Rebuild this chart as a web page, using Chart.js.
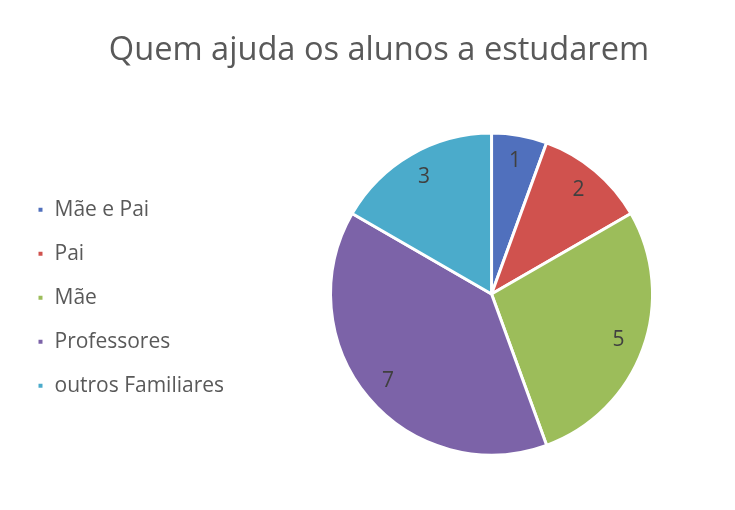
<!DOCTYPE html>
<html>
<head>
<meta charset="utf-8">
<script src="https://cdn.jsdelivr.net/npm/chart.js@4"></script>
<style>
  html, body { margin: 0; padding: 0; background: #fff; }
  #wrap { width: 735px; height: 510px; }
</style>
</head>
<body>
<div id="wrap"><canvas id="myChart" width="735" height="510"></canvas></div>
<script>
// dados do gráfico
const categorias = ['Mãe e Pai', 'Pai', 'Mãe', 'Professores', 'outros Familiares'];
const valores = [1, 2, 5, 7, 3];
const cores = ['#5070bd', '#d0524e', '#9cbd5a', '#7c63a8', '#4babcb'];

// desenha o número de cada fatia
const rotulos = {
  id: 'rotulos',
  afterDatasetsDraw(chart) {
    const ctx = chart.ctx;
    const meta = chart.getDatasetMeta(0);
    ctx.save();
    ctx.font = '21px "Open Sans", sans-serif';
    ctx.fillStyle = '#404040';
    ctx.textAlign = 'center';
    ctx.textBaseline = 'middle';
    meta.data.forEach((arc, i) => {
      const p = arc.getProps(['x', 'y', 'startAngle', 'endAngle', 'outerRadius']);
      const a = (p.startAngle + p.endAngle) / 2;
      const r = p.outerRadius * 0.84;
      ctx.fillText(String(valores[i]), p.x + Math.cos(a) * r, p.y + Math.sin(a) * r);
    });
    ctx.restore();
  }
};

// legenda um pouco mais larga, para empurrar a pizza para a direita
const alargaLegenda = {
  id: 'alargaLegenda',
  beforeInit(chart) {
    const lg = chart.legend;
    if (!lg) return;
    const fit = lg.fit;
    lg.fit = function () {
      fit.call(this);
      this.width += 14;
    };
  }
};

const ctx = document.getElementById('myChart').getContext('2d');
const myChart = new Chart(ctx, {
  type: 'pie',
  data: {
    labels: categorias,
    datasets: [{
      data: valores,
      backgroundColor: cores,
      borderColor: '#ffffff',
      borderWidth: 3
    }]
  },
  options: {
    responsive: false,
    animation: false,
    radius: 161,
    layout: { padding: { left: 14, right: -9, top: 0, bottom: 0 } },
    plugins: {
      title: {
        display: true,
        text: 'Quem ajuda os alunos a estudarem',
        color: '#595959',
        font: { family: '"Open Sans", sans-serif', size: 32.6, weight: 'normal' },
        padding: { top: 31, bottom: 8 }
      },
      legend: {
        position: 'left',
        title: { display: true, text: '', padding: { top: 0, bottom: 71 } },
        labels: {
          color: '#595959',
          boxWidth: 7,
          boxHeight: 7,
          padding: 23,
          font: { family: '"Open Sans", sans-serif', size: 21 }
        }
      },
      tooltip: { enabled: false }
    }
  },
  plugins: [rotulos, alargaLegenda]
});
</script>
</body>
</html>
